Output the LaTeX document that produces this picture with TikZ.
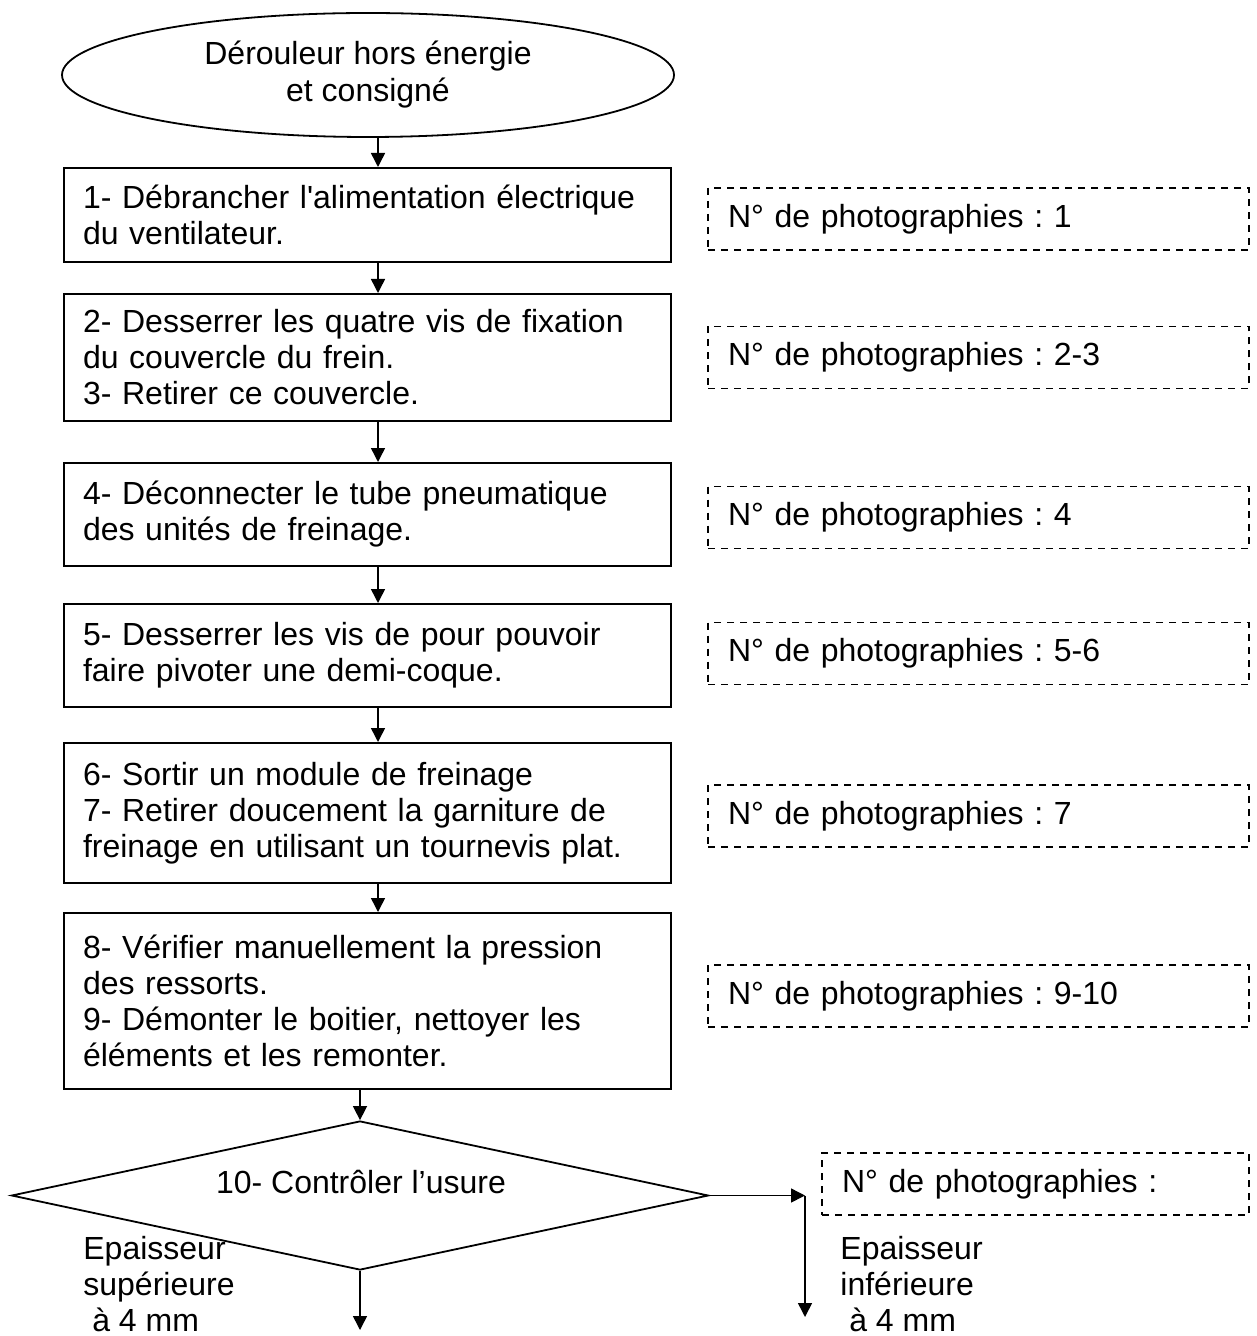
\documentclass[tikz,border=0pt]{standalone}
\usepackage{fontspec}
\setmainfont{Liberation Sans}
\usetikzlibrary{shapes.geometric,arrows.meta}
\newcommand\sqt{\XeTeXglyph\XeTeXglyphindex "quotesingle"\relax}
\frenchspacing
\begin{document}
\begin{tikzpicture}[x=0.5pt,y=-0.5pt,
  txt/.style={font=\fontsize{16}{18}\selectfont},
  stepbox/.style={draw, line width=1pt, rectangle, minimum width=303.5pt,
    text width=284.5pt, inner xsep=9.5pt, inner ysep=0pt, align=left,
    font=\fontsize{16}{18}\selectfont},
  photobox/.style={draw, line width=0.9pt, dash pattern=on 3.5pt off 3pt,
    rectangle, minimum height=31pt, inner xsep=10pt, inner ysep=0pt,
    align=left, font=\fontsize{16}{18}\selectfont},
  arr/.style={line width=0.75pt, -{Triangle[length=7pt,width=7pt]}},
]
\useasboundingbox (0,0) rectangle (1256,1336);

% start ellipse
\node[ellipse, draw, line width=0.9pt, minimum width=306pt, minimum height=62pt,
  inner sep=0pt, align=center, font=\fontsize{16}{18.5}\selectfont] (start) at (368,75)
  {Dérouleur hors énergie\\et consigné};

% steps
\node[stepbox, minimum height=47pt] (b1) at (367.5,215)
  {1- Débrancher l\sqt alimentation électrique\\du ventilateur.};
\node[stepbox, minimum height=63.5pt] (b2) at (367.5,357.5)
  {2- Desserrer les quatre vis de fixation\\du couvercle du frein.\\3- Retirer ce couvercle.};
\node[stepbox, minimum height=51.5pt] (b4) at (367.5,514.5)
  {4- Déconnecter le tube pneumatique\\des unités de freinage.};
\node[stepbox, minimum height=51.5pt] (b5) at (367.5,655.5)
  {5- Desserrer les vis de pour pouvoir\\faire pivoter une demi-coque.};
\node[stepbox, minimum height=70pt] (b6) at (367.5,813)
  {6- Sortir un module de freinage\\7- Retirer doucement la garniture de\\freinage en utilisant un tournevis plat.};
\node[stepbox, minimum height=88pt] (b8) at (367.5,1001)
  {8- Vérifier manuellement la pression\\des ressorts.\\9- Démonter le boitier, nettoyer les\\éléments et les remonter.};

% decision
\node[diamond, draw, line width=0.9pt, minimum width=348.5pt, minimum height=74.5pt,
  aspect=4.68, inner sep=0pt] (dec) at (360,1195.5) {};
\node[txt, anchor=base, inner sep=0pt] (dectxt) at (361,1193) {10- Contrôler l’usure};

% photo boxes
\node[photobox, minimum width=270.5pt, text width=250.5pt] (p1) at (978.5,219) {N° de photographies : 1};
\node[photobox, minimum width=270.5pt, text width=250.5pt] (p2) at (978.5,357.5) {N° de photographies : 2-3};
\node[photobox, minimum width=270.5pt, text width=250.5pt] (p4) at (978.5,517.5) {N° de photographies : 4};
\node[photobox, minimum width=270.5pt, text width=250.5pt] (p5) at (978.5,653.5) {N° de photographies : 5-6};
\node[photobox, minimum width=270.5pt, text width=250.5pt] (p7) at (978.5,816) {N° de photographies : 7};
\node[photobox, minimum width=270.5pt, text width=250.5pt] (p9) at (978.5,996) {N° de photographies : 9-10};
\node[photobox, minimum width=213.5pt, text width=193.5pt] (p10) at (1035.5,1184) {N° de photographies :};

% branch labels
\node[txt, anchor=north west, inner sep=0pt, align=left] (lblsup) at (83,1236)
  {Epaisseur\\supérieure\\\hspace*{.278em}à 4 mm};
\node[txt, anchor=north west, inner sep=0pt, align=left] (lblinf) at (840,1236)
  {Epaisseur\\inférieure\\\hspace*{.278em}à 4 mm};

% connectors
\coordinate (col) at (378,0);
\draw[arr] (start.south -| col) -- (b1.north -| col);
\draw[arr] (b1.south -| col) -- (b2.north -| col);
\draw[arr] (b2.south -| col) -- (b4.north -| col);
\draw[arr] (b4.south -| col) -- (b5.north -| col);
\draw[arr] (b5.south -| col) -- (b6.north -| col);
\draw[arr] (b6.south -| col) -- (b8.north -| col);
\draw[arr] (b8.south -| dec.north) -- (dec.north);
\coordinate (endL) at (360,1330);
\draw[arr] (dec.south) -- (endL);
\coordinate (corner) at (805,1195.5);
\coordinate (endR) at (805,1317);
\draw[arr] (dec.east) -- (corner);
\draw[arr] (corner) -- (endR);
\end{tikzpicture}
\end{document}
